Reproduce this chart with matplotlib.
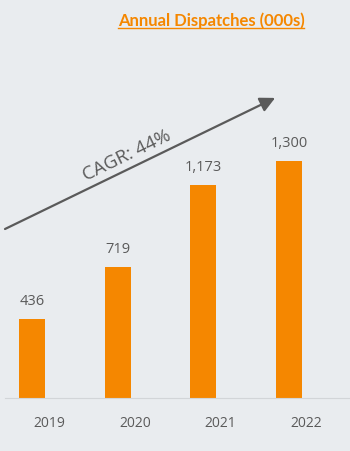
import matplotlib.pyplot as plt
from matplotlib.lines import Line2D

years = ['2019', '2020', '2021', '2022']
dispatches = [436, 719, 1173, 1300]
value_labels = ['436', '719', '1,173', '1,300']
cagr_text = 'CAGR: 44%'
title = 'Annual Dispatches (000s)'

bg = '#e9ecef'
orange = '#f58700'
grey = '#5a5a5a'

plt.rcParams['font.family'] = ['Open Sans', 'DejaVu Sans']

fig = plt.figure(figsize=(3.5, 4.51), dpi=100)
fig.patch.set_facecolor(bg)
ax = fig.add_axes([5/350, 53/451, 345/350, 398/451])
ax.set_facecolor(bg)

x = list(range(len(years)))
ax.bar(x, dispatches, width=0.30, color=orange, zorder=2)
for xi, v, lab in zip(x, dispatches, value_labels):
    ax.text(xi, v + 55, lab, ha='center', va='bottom', fontsize=10.5, color=grey)

ax.set_xlim(-0.315, 3.712)
ax.set_ylim(0, 398 / 0.182)
# year labels sit a little right of the bar centres in the original
ax.set_xticks([xi + 0.2 for xi in x])
ax.set_xticklabels(years, fontsize=10, color=grey)
ax.tick_params(axis='x', length=0, pad=13)
ax.set_yticks([])
for s in ['top', 'right', 'left']:
    ax.spines[s].set_visible(False)
ax.spines['bottom'].set_color('#d2d5d8')
ax.spines['bottom'].set_linewidth(0.8)

# growth arrow
ax.annotate('', xy=(0.783, 0.754), xytext=(0.0, 0.4246), xycoords='axes fraction',
            arrowprops=dict(arrowstyle='-|>,head_length=0.9,head_width=0.45',
                            color=grey, lw=1.6, shrinkA=0, shrinkB=0))
ax.annotate(cagr_text, xy=(0.371, 0.5806), xycoords='axes fraction',
            xytext=(-1.5, 2.5), textcoords='offset points', rotation=25.9,
            rotation_mode='anchor', ha='center', va='bottom', fontsize=13.5, color=grey)

# underlined title
t = fig.text(211/350, 1 - 21/451, title, ha='center', va='center',
             fontsize=12, fontweight='bold', color=orange, family=['Lato', 'DejaVu Sans'])
fig.canvas.draw()
bb = t.get_window_extent().transformed(fig.transFigure.inverted())
fig.add_artist(Line2D([bb.x0, bb.x1], [bb.y0 + 0.002, bb.y0 + 0.002],
                      color=orange, lw=1.0, transform=fig.transFigure))

fig.savefig('out.png', dpi=100, facecolor=bg)
